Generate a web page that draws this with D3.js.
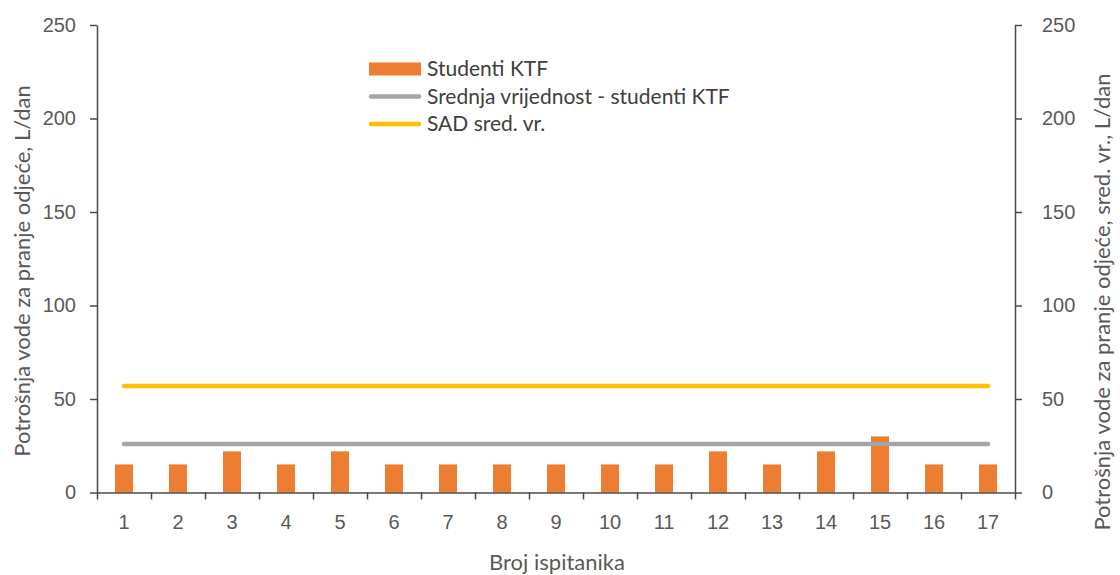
<!DOCTYPE html>
<html>
<head>
<meta charset="utf-8">
<script src="https://cdn.jsdelivr.net/npm/d3@7/dist/d3.min.js"></script>
<style>
  body { margin: 0; background: #fff; }
  svg { display: block; font-family: Lato, "Open Sans", sans-serif; }
  .axis path, .axis line { stroke: #4a4a4a; stroke-width: 1.5; }
  .axis text { fill: #595959; font-size: 20px; }
  .title { fill: #595959; font-size: 22px; }
  .legend text { fill: #404040; font-size: 21px; }
</style>
</head>
<body>
<svg width="1120" height="575"></svg>
<script>
var categories = ["1","2","3","4","5","6","7","8","9","10","11","12","13","14","15","16","17"];
var studenti = [15,15,22,15,22,15,15,15,15,15,15,22,15,22,30,15,15];
var srednja = 26;   // Srednja vrijednost - studenti KTF
var sadSred = 57;   // SAD sred. vr.
var yTicks = [0,50,100,150,200,250];

var svg = d3.select("svg"),
    margin = {top: 25, right: 105, bottom: 82.5, left: 97},
    width = +svg.attr("width") - margin.left - margin.right,
    height = +svg.attr("height") - margin.top - margin.bottom;

var g = svg.append("g").attr("transform", "translate(" + margin.left + "," + margin.top + ")");

var x = d3.scaleBand().domain(categories).range([0, width])
    .paddingInner(0.667).paddingOuter(0.333);
var xCat = d3.scaleBand().domain(categories).range([0, width]);
var xIdx = d3.scaleLinear().domain([0, categories.length]).range([0, width]);
var y = d3.scaleLinear().domain([0, 250]).range([height, 0]);
var y2 = d3.scaleLinear().domain([0, 250]).range([height, 0]);

// bars
g.append("g").selectAll("rect")
  .data(studenti)
  .enter().append("rect")
    .attr("x", function(d, i) { return x(categories[i]); })
    .attr("y", function(d) { return y(d); })
    .attr("width", x.bandwidth())
    .attr("height", function(d) { return height - y(d); })
    .attr("fill", "#ED7D31");

// mean lines
var first = xCat(categories[0]) + xCat.bandwidth() / 2,
    last = xCat(categories[categories.length - 1]) + xCat.bandwidth() / 2;

[{v: srednja, c: "#A5A5A5"}, {v: sadSred, c: "#FFC000"}].forEach(function(l) {
  g.append("line")
    .attr("x1", first).attr("x2", last)
    .attr("y1", y(l.v)).attr("y2", y(l.v))
    .attr("stroke", l.c)
    .attr("stroke-width", 4.5)
    .attr("stroke-linecap", "round");
});

// axes
g.append("g").attr("class", "axis")
    .call(d3.axisLeft(y).tickValues(yTicks).tickSize(7).tickPadding(14).tickSizeOuter(0));

g.append("g").attr("class", "axis")
    .attr("transform", "translate(" + width + ",0)")
    .call(d3.axisRight(y2).tickValues(yTicks).tickSize(7).tickPadding(20).tickSizeOuter(0));

g.append("g").attr("class", "axis")
    .attr("transform", "translate(0," + height + ")")
    .call(d3.axisBottom(xIdx).tickValues(d3.range(categories.length + 1)).tickFormat("").tickSize(7).tickSizeOuter(0));

var xl = g.append("g").attr("class", "axis")
    .attr("transform", "translate(0," + height + ")")
    .call(d3.axisBottom(xCat).tickSize(0).tickPadding(22));
xl.select(".domain").remove();

// axis titles
svg.append("text").attr("class", "title")
    .attr("transform", "translate(30,271) rotate(-90)")
    .attr("text-anchor", "middle")
    .text("Potrošnja vode za pranje odjeće, L/dan");

svg.append("text").attr("class", "title")
    .attr("transform", "translate(1110,302) rotate(-90)")
    .attr("text-anchor", "middle")
    .text("Potrošnja vode za pranje odjeće, sred. vr., L/dan");

svg.append("text").attr("class", "title")
    .attr("x", 557)
    .attr("y", 570)
    .attr("text-anchor", "middle")
    .text("Broj ispitanika");

// legend
var legend = svg.append("g").attr("class", "legend").attr("transform", "translate(369,69)");
var items = [
  {name: "Studenti KTF", color: "#ED7D31", type: "rect"},
  {name: "Srednja vrijednost - studenti KTF", color: "#A5A5A5", type: "line"},
  {name: "SAD sred. vr.", color: "#FFC000", type: "line"}
];
items.forEach(function(d, i) {
  var row = legend.append("g").attr("transform", "translate(0," + i * 27.5 + ")");
  if (d.type == "rect") {
    row.append("rect").attr("x", 0).attr("y", -6.5).attr("width", 52).attr("height", 13).attr("fill", d.color);
  } else {
    row.append("line").attr("x1", 2).attr("x2", 50).attr("y1", 0).attr("y2", 0)
      .attr("stroke", d.color).attr("stroke-width", 4.5).attr("stroke-linecap", "round");
  }
  row.append("text").attr("x", 58).attr("y", 0).attr("dy", "0.35em").text(d.name);
});
</script>
</body>
</html>
